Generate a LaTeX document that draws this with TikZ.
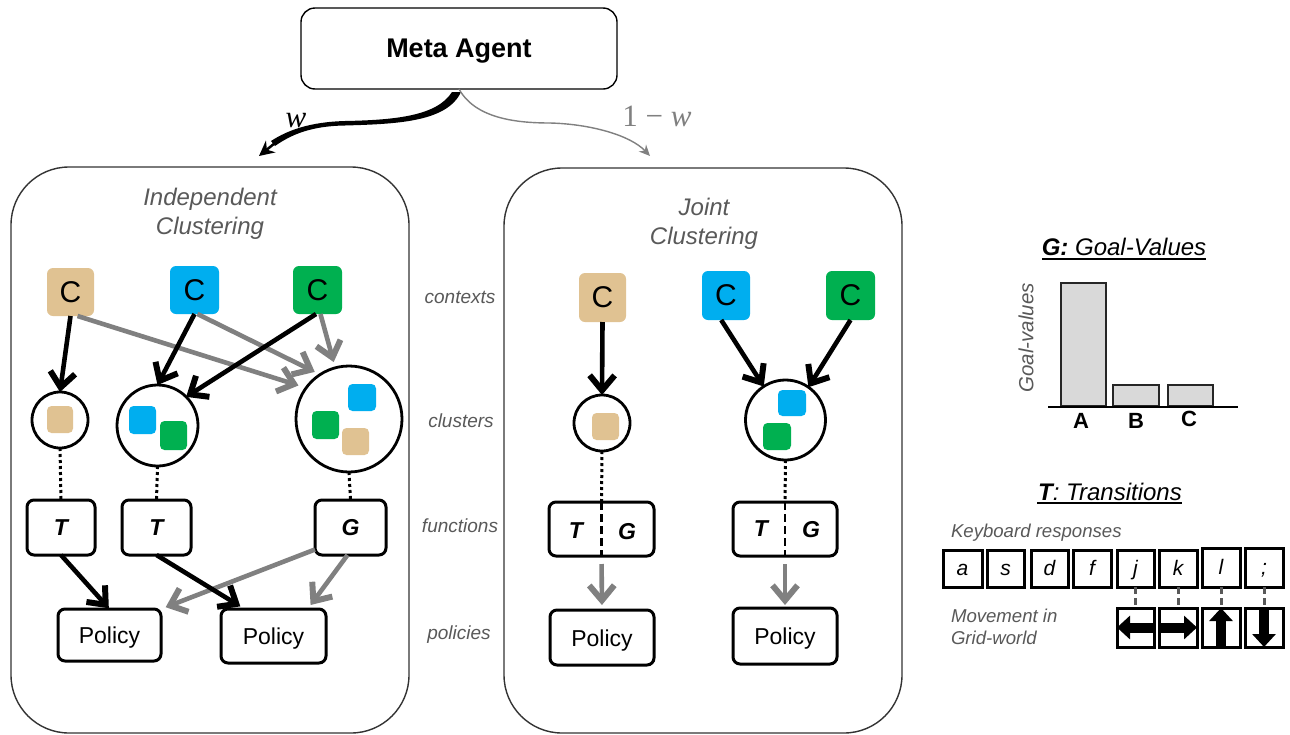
\documentclass[tikz,border=0pt]{standalone}
\usepackage{fontspec}
\setmainfont{Liberation Sans}
\newfontfamily\mathlike{Liberation Serif}
\usetikzlibrary{arrows.meta,calc}
\definecolor{ctan}{HTML}{E0C292}
\definecolor{cblue}{HTML}{00AEEF}
\definecolor{cgreen}{HTML}{00B050}
\definecolor{lgray}{HTML}{595959}
\definecolor{agray}{HTML}{808080}
\definecolor{bargray}{HTML}{D9D9D9}
\newcommand{\fs}[1]{\fontsize{#1}{#1}\selectfont}
\newcommand{\bx}[7][]{\node[#2,#1,minimum width={(#5-#3)*1pt},minimum height={(#6-#4)*1pt}] (#7) at ({(#3+#5)/2},{(#4+#6)/2}) {};}
\newcommand{\bxt}[8][]{\node[#2,#1,minimum width={(#5-#3)*1pt},minimum height={(#6-#4)*1pt}] (#7) at ({(#3+#5)/2},{(#4+#6)/2}) {#8};}
\tikzset{
 base/.style={inner sep=0pt,outer sep=0pt},
 meta/.style={base,draw=black,line width=1.4pt,rounded corners=14pt,font=\fs{27}\bfseries,text depth=0pt},
 panel/.style={base,draw=black!80,line width=1.4pt,rounded corners=58pt},
 ctx/.style={base,rounded corners=6pt,font=\fs{30},text depth=0pt},
 chip/.style={base,rounded corners=4.5pt},
 clus/.style={base,circle,draw=black,line width=2.8pt},
 fnbox/.style={base,draw=black,line width=3pt,rounded corners=7pt,font=\fs{23}\bfseries\itshape,text depth=0pt},
 polbox/.style={base,draw=black,line width=3pt,rounded corners=7pt,font=\fs{23},text depth=0pt,text height=17pt},
 keybox/.style={base,draw=black,line width=3pt,font=\fs{21}\itshape,text depth=0pt,text height=14pt},
 bar/.style={base,draw=black!85,line width=1.8pt,fill=bargray},
 lab/.style={base,text=lgray,font=\fs{19}\itshape,text depth=0pt},
 ptitle/.style={base,text=lgray,font=\fs{24}\itshape,align=center},
 rtitle/.style={base,text=black,font=\fs{24}\itshape},
 note/.style={base,text=lgray,font=\fs{18.6}\itshape,align=left},
 blk/.style={draw=black,line width=4.6pt,-{Straight Barb[length=15pt,width=25pt,line width=0pt 1.3]}},
 gry/.style={draw=agray,line width=4.6pt,-{Straight Barb[length=15pt,width=25pt,line width=0pt 1.3]}},
 dots/.style={draw=black,line width=3pt,dash pattern=on 3pt off 3pt},
 tgdash/.style={draw=black,line width=2.8pt,dash pattern=on 8pt off 4pt},
 keydash/.style={draw=lgray,line width=3pt,dash pattern=on 7pt off 4pt},
 mv/.style={draw=black,line width=10pt,-{Triangle[length=13pt,width=23pt]}},
}
\begin{document}
\begin{tikzpicture}[x=1pt,y=-1pt]
\clip (0,0) rectangle (1290,734);
\useasboundingbox (0,0) rectangle (1290,734);
\fill[white] (0,0) rectangle (1290,734);
% meta
\bxt{meta}{301}{8}{617}{89}{mA}{Meta Agent}
\coordinate (wEnd) at (259,156);
\coordinate (wNear) at (275,143);
\coordinate (nwEnd) at (650,156);
\coordinate (nwMid) at (550,123);
\fill[black] (452,92) .. controls (437,116) and (395,120) .. (345,121)
  .. controls (310,122) and (288,130) .. (271,141)
  -- (275,146) .. controls (292,134) and (312,126) .. (345,125.5)
  .. controls (397,124) and (447,122) .. (461,92) -- cycle;
\draw[black,line width=2.5pt,-{Stealth[length=15pt,width=15pt]}] (wNear) -- (wEnd);
\draw[agray,line width=1.4pt] (mA.south) .. controls (475,118) and (515,123) .. (nwMid);
\draw[agray,line width=1.4pt,-{Stealth[length=11pt,width=10pt]}] (nwMid) .. controls (590,124) and (630,135) .. (nwEnd);
\node[base,font=\fs{31}\mathlike\itshape,text depth=0pt] (wL) at (296,120) {w};
\node[base,font=\fs{31}\mathlike,text=agray,text depth=0pt] (owL) at (657,116) {1 − \textit{w}};
% panels
\bx{panel}{11}{167}{409}{733}{pL}
\bx{panel}{504}{168}{902}{733}{pR}
\node[ptitle] (tL) at (210,214) {Independent\\[5pt]Clustering};
\node[ptitle] (tR) at (704,223.5) {Joint\\[5pt]Clustering};
% left contexts
\bxt[fill=ctan]{ctx}{47}{268}{94}{316}{lcT}{C}
\bxt[fill=cblue]{ctx}{170}{266}{219}{314}{lcB}{C}
\bxt[fill=cgreen]{ctx}{293}{266}{342}{314}{lcG}{C}
% left clusters
\bx{clus}{32}{392}{88}{448}{lsm}
\bx{clus}{117}{385}{198}{466}{lmd}
\bx{clus}{296}{367}{402}{471}{lbg}
\bx[fill=ctan]{chip}{47}{406}{73}{433}{a1}
\bx[fill=cblue]{chip}{129}{406}{156}{434}{a2}
\bx[fill=cgreen]{chip}{160}{421}{187}{450}{a3}
\bx[fill=cblue]{chip}{348}{384}{376}{411}{a4}
\bx[fill=cgreen]{chip}{312}{411}{339}{439}{a5}
\bx[fill=ctan]{chip}{342}{428}{369}{455}{a6}
% left functions & policies
\bxt{fnbox}{27}{500}{95}{555}{lfT}{T}
\bxt{fnbox}{122}{500}{191}{555}{lfU}{T}
\bxt{fnbox}{315}{500}{386}{555}{lfG}{G}
\bxt{polbox}{58}{609}{161}{661}{lp1}{Policy}
\bxt{polbox}{221}{609}{326}{663}{lp2}{Policy}
% left arrows
\draw[gry,shorten >=8pt] ($(lcT.south)!.3!(lcT.south east)$) -- (lbg.144);
\draw[gry,shorten >=6pt] ($(lcB.south)!.12!(lcB.south east)$) -- (lbg.123);
\draw[gry,shorten >=6pt] ($(lcG.south)!.12!(lcG.south east)$) -- (lbg.105);
\draw[blk] (lcT.south) -- (lsm.north);
\draw[blk] (lcB.south) -- (lmd.north);
\draw[blk] ($(lcG.south)!.06!(lcG.south west)$) -- (lmd.45);
\draw[dots] (lsm.south) -- (lfT.north);
\draw[dots] (lmd.south) -- (lfU.north);
\draw[dots] (lbg.south) -- (lfG.north);
\draw[gry,shorten >=5pt] ($(lfG.west)!.8!(lfG.south west)$) -- (lp1.north east);
\draw[gry,shorten >=5pt] (lfG.south) ++(-3,0) -- ($(lp2.north)!.65!(lp2.north east)$);
\draw[blk,shorten >=1pt] (lfT.south) -- (lp1.north);
\draw[blk,shorten >=5pt] (lfU.south) -- ($(lp2.north)!.55!(lp2.north west)$);
% right contexts
\bxt[fill=ctan]{ctx}{579}{273}{626}{322}{rcT}{C}
\bxt[fill=cblue]{ctx}{702}{271}{750}{320}{rcB}{C}
\bxt[fill=cgreen]{ctx}{826}{271}{875}{320}{rcG}{C}
\bx{clus}{574}{395}{630}{451}{rsm}
\bx{clus}{746}{380}{825}{460}{rmd}
\bx[fill=ctan]{chip}{592}{413}{619}{440}{b1}
\bx[fill=cblue]{chip}{778}{390}{806}{416}{b2}
\bx[fill=cgreen]{chip}{763}{423}{791}{450}{b3}
\bx{fnbox}{549}{502}{654}{556}{rf1}
\bx{fnbox}{733}{502}{837}{556}{rf2}
\node[base,font=\fs{23}\bfseries\itshape,text depth=0pt] (rf1T) at (576,531) {T};
\node[base,font=\fs{23}\bfseries\itshape,text depth=0pt] (rf1G) at (627,531) {G};
\node[base,font=\fs{23}\bfseries\itshape,text depth=0pt] (rf2T) at (761,529) {T};
\node[base,font=\fs{23}\bfseries\itshape,text depth=0pt] (rf2G) at (811,529) {G};
\bxt{polbox}{550}{610}{654}{665}{rp1}{Policy}
\bxt{polbox}{733}{608}{837}{664}{rp2}{Policy}
\draw[blk] (rcT.south) -- (rsm.north);
\draw[blk] ($(rcB.south)!.2!(rcB.south west)$) -- (rmd.123);
\draw[blk] (rcG.south) -- (rmd.55);
\draw[dots] (rsm.south) -- (rf1.north);
\draw[dots] (rmd.south) -- (rf2.north);
\draw[tgdash] (rf1.north) -- (rf1.south);
\draw[tgdash] (rf2.north) -- (rf2.south);
\draw[gry,shorten <=8pt,shorten >=5pt] (rf1.south) -- (rp1.north);
\draw[gry,shorten <=8pt,shorten >=3pt] (rf2.south) -- (rp2.north);
% row labels
\node[lab] (l1) at (460,297) {contexts};
\node[lab] (l2) at (461,421) {clusters};
\node[lab] (l3) at (460,526) {functions};
\node[lab] (l4) at (459,633) {policies};
% goal values
\node[rtitle] (gt) at (1124,247) {\textbf{G:} Goal-Values};
\draw[black,line width=1.4pt] (1042,259) -- (1206,259);
\node[base,rotate=90,text=lgray,font=\fs{20.5}\itshape] (gy) at (1026,338) {Goal-values};
\bx{bar}{1061}{283}{1106}{406}{bA}
\bx{bar}{1113}{385}{1159}{406}{bB}
\bx{bar}{1168}{385}{1213}{406}{bC}
\draw[black,line width=1.4pt] (1048,407) -- (1238,407);
\node[base,font=\fs{22}\bfseries] (lA) at (1081,421) {A};
\node[base,font=\fs{22}\bfseries] (lB) at (1136,421) {B};
\node[base,font=\fs{22}\bfseries] (lC) at (1189,419) {C};
% transitions
\node[rtitle] (tt) at (1110,492) {\textbf{T}: Transitions};
\draw[black,line width=1.4pt] (1037,503) -- (1182,503);
\node[note,anchor=west] (kb) at (951,533) {Keyboard responses};
\node[note,anchor=west] (mv1) at (951,616) {Movement in};
\node[note,anchor=west] (mv2) at (951,638) {Grid-world};
\bxt{keybox}{943}{550}{982}{587}{ka}{a}
\bxt{keybox}{987}{550}{1024}{587}{ks}{s}
\bxt{keybox}{1031}{550}{1068}{587}{kd}{d}
\bxt{keybox}{1073}{550}{1111}{587}{kf}{f}
\bxt{keybox}{1117}{550}{1154}{587}{kj}{j}
\bxt{keybox}{1159}{550}{1197}{587}{kk}{k}
\bxt{keybox}{1202}{548}{1240}{587}{kl}{l}
\bxt{keybox}{1245}{548}{1283}{587}{ksc}{;}
\bx{keybox}{1117}{608}{1154}{647}{mj}
\bx{keybox}{1159}{608}{1197}{647}{mk}
\bx{keybox}{1202}{608}{1240}{647}{ml}
\bx{keybox}{1245}{608}{1283}{647}{msc}
\draw[keydash] (kj.south) -- (mj.north);
\draw[keydash] (kk.south) -- (mk.north);
\draw[keydash] (kl.south) -- (ml.north);
\draw[keydash] (ksc.south) -- (msc.north);
\draw[mv] (mj.east) -- (mj.west);
\draw[mv] (mk.west) -- (mk.east);
\draw[mv] (ml.south) -- (ml.north);
\draw[mv] (msc.north) -- (msc.south);
\end{tikzpicture}
\end{document}
